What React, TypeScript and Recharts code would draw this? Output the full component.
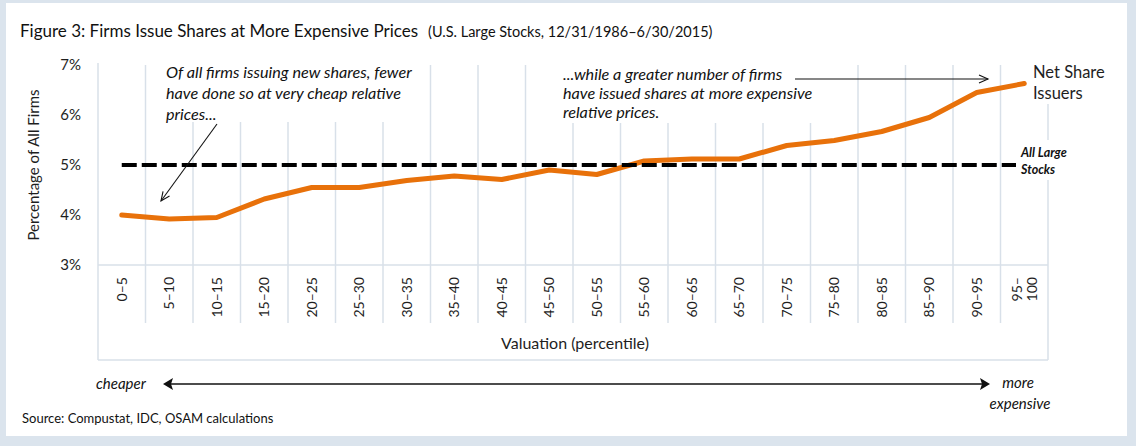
import React from "react";
import { LineChart, Line, XAxis, YAxis, CartesianGrid } from "recharts";

const categories = [
  "0–5", "5–10", "10–15", "15–20", "20–25", "25–30", "30–35", "35–40", "40–45", "45–50",
  "50–55", "55–60", "60–65", "65–70", "70–75", "75–80", "80–85", "85–90", "90–95", "95–100",
];
const netShareIssuers = [
  4.0, 3.92, 3.95, 4.32, 4.55, 4.55, 4.69, 4.78, 4.71, 4.9,
  4.81, 5.08, 5.12, 5.12, 5.39, 5.49, 5.67, 5.95, 6.45, 6.63,
];
const allLargeStocks = [5, 5, 5, 5, 5, 5, 5, 5, 5, 5, 5, 5, 5, 5, 5, 5, 5, 5, 5, 5];
const yTicks = [3, 4, 5, 6, 7];

const data = categories.map((cat, i) => ({
  cat,
  net: netShareIssuers[i],
  all: allLargeStocks[i],
}));

const W = 1136;
const H = 446;
const PLOT_TOP = 65;
const PLOT_BOTTOM = 265;
const PLOT_LEFT = 98;
const PLOT_RIGHT = 1048;
const BAND = (PLOT_RIGHT - PLOT_LEFT) / categories.length;
const FONT = "Lato, 'Open Sans', sans-serif";
const GRID = "#d8e0e9";
const TEXT = "#1e1e1e";
const ORANGE = "#e8710a";

function CategoryTick(props: any) {
  const { x, y, payload, index } = props;
  const label: string = payload.value;
  const parts = label === "95–100" ? ["95–", "100"] : [label];
  const left = x - BAND / 2;
  return (
    <g>
      {index > 0 && (
        <line x1={left} x2={left} y1={PLOT_BOTTOM} y2={323} stroke={GRID} strokeWidth={1.5} />
      )}
      <text
        transform={`translate(${x},${y}) rotate(-90)`}
        textAnchor="end"
        fontFamily={FONT}
        fontSize={14}
        fill={TEXT}
      >
        {parts.map((p, i) => (
          <tspan key={i} x={0} y={(i - (parts.length - 1) / 2) * 15} dy="0.36em">
            {p}
          </tspan>
        ))}
      </text>
    </g>
  );
}

// thin line with open chevron head at (x2, y2)
function Arrow({ x1, y1, x2, y2 }: { x1: number; y1: number; x2: number; y2: number }) {
  const len = Math.hypot(x2 - x1, y2 - y1);
  const ux = (x2 - x1) / len;
  const uy = (y2 - y1) / len;
  const bx = x2 - ux * 9;
  const by = y2 - uy * 9;
  return (
    <g stroke="#111" strokeWidth={1.1} fill="none">
      <line x1={x1} y1={y1} x2={x2} y2={y2} />
      <polyline
        points={`${bx - uy * 4},${by + ux * 4} ${x2},${y2} ${bx + uy * 4},${by - ux * 4}`}
      />
    </g>
  );
}

export default function App() {
  return (
    <div
      style={{
        position: "absolute",
        left: 0,
        top: 0,
        width: W,
        height: H,
        background: "#dbe4ed",
        fontFamily: FONT,
      }}
    >
      <div
        style={{
          position: "absolute",
          left: 6,
          top: 3,
          width: 1121,
          height: 433,
          background: "#fff",
        }}
      />
      <div style={{ position: "absolute", left: 0, top: 0 }}>
        <LineChart
          width={W}
          height={H}
          data={data}
          margin={{ top: PLOT_TOP, right: W - PLOT_RIGHT, left: PLOT_LEFT - 60, bottom: H - PLOT_BOTTOM - 60 }}
        >
          <CartesianGrid
            horizontal={false}
            stroke={GRID}
            strokeWidth={1.5}
            verticalCoordinatesGenerator={({ offset }: any) =>
              categories.slice(1).map((_, i) => offset.left + ((i + 1) * offset.width) / categories.length)
            }
          />
          <XAxis
            dataKey="cat"
            interval={0}
            height={60}
            padding={{ left: BAND / 2, right: BAND / 2 }}
            tickLine={false}
            tickSize={0}
            tickMargin={12}
            axisLine={{ stroke: GRID, strokeWidth: 1.5 }}
            tick={<CategoryTick />}
          />
          <YAxis
            width={60}
            domain={[3, 7]}
            ticks={yTicks}
            axisLine={false}
            tickLine={false}
            tickSize={0}
            tickMargin={17}
            tickFormatter={(v: number) => `${v}%`}
            tick={{ fontFamily: FONT, fontSize: 15, fill: TEXT }}
          />
          <Line
            dataKey="net"
            stroke={ORANGE}
            strokeWidth={5}
            strokeLinecap="round"
            strokeLinejoin="round"
            dot={false}
            activeDot={false}
            isAnimationActive={false}
          />
          <Line
            dataKey="all"
            stroke="#000"
            strokeWidth={4}
            strokeDasharray="15 5"
            dot={false}
            activeDot={false}
            isAnimationActive={false}
          />
        </LineChart>
      </div>
      <svg
        width={W}
        height={H}
        style={{ position: "absolute", left: 0, top: 0, pointerEvents: "none" }}
        fontFamily={FONT}
      >
        {/* frame round plot and category labels */}
        <g stroke={GRID} strokeWidth={1.5} fill="none">
          <line x1={PLOT_LEFT} y1={63} x2={PLOT_LEFT} y2={360} />
          <line x1={PLOT_LEFT} y1={360} x2={PLOT_RIGHT} y2={360} />
          <line x1={PLOT_RIGHT} y1={63} x2={PLOT_RIGHT} y2={360} />
        </g>

        {/* white boxes behind annotations */}
        <rect x={160} y={58} width={268} height={64} fill="#fff" />
        <rect x={556} y={58} width={276} height={65} fill="#fff" />
        <rect x={1028} y={58} width={90} height={46} fill="#fff" />
        <rect x={1016} y={140} width={90} height={40} fill="#fff" />

        <text x={20} y={37} fontSize={17} fill="#111">
          Figure 3: Firms Issue Shares at More Expensive Prices
          <tspan fontSize={14.5} dx={10}>(U.S. Large Stocks, 12/31/1986–6/30/2015)</tspan>
        </text>

        <g fontSize={16.2} fontStyle="italic" fill="#111">
          <text x={166} y={78}>Of all firms issuing new shares, fewer</text>
          <text x={166} y={99}>have done so at very cheap relative</text>
          <text x={166} y={120}>prices...</text>
          <text x={563} y={80}>...while a greater number of firms</text>
          <text x={563} y={99}>have issued shares at more expensive</text>
          <text x={563} y={118}>relative prices.</text>
        </g>

        <Arrow x1={217} y1={124} x2={161} y2={201} />
        <Arrow x1={795} y1={79} x2={988} y2={79} />

        <g fontSize={16.5} fill={TEXT}>
          <text x={1033} y={78}>Net Share</text>
          <text x={1033} y={99}>Issuers</text>
        </g>
        <g fontSize={12.5} fontWeight="bold" fontStyle="italic" fill="#111">
          <text x={1021} y={157}>All Large</text>
          <text x={1021} y={174}>Stocks</text>
        </g>

        <text
          transform="translate(39,165) rotate(-90)"
          textAnchor="middle"
          fontSize={15}
          fill={TEXT}
        >
          Percentage of All Firms
        </text>
        <text x={575} y={349} textAnchor="middle" fontSize={16} fill={TEXT}>
          Valuation (percentile)
        </text>

        {/* cheaper <-> more expensive */}
        <g fontSize={15} fontStyle="italic" fill="#111">
          <text x={96} y={389}>cheaper</text>
          <text x={1018} y={388} textAnchor="middle">more</text>
          <text x={1020} y={409} textAnchor="middle">expensive</text>
        </g>
        <line x1={168} y1={384} x2={985} y2={384} stroke="#111" strokeWidth={1.5} />
        <polygon points="163,384 173,378 171,384 173,390" fill="#111" />
        <polygon points="990,384 980,378 982,384 980,390" fill="#111" />

        <text x={22} y={423} fontSize={13} fill="#111">
          Source: Compustat, IDC, OSAM calculations
        </text>
      </svg>
    </div>
  );
}
